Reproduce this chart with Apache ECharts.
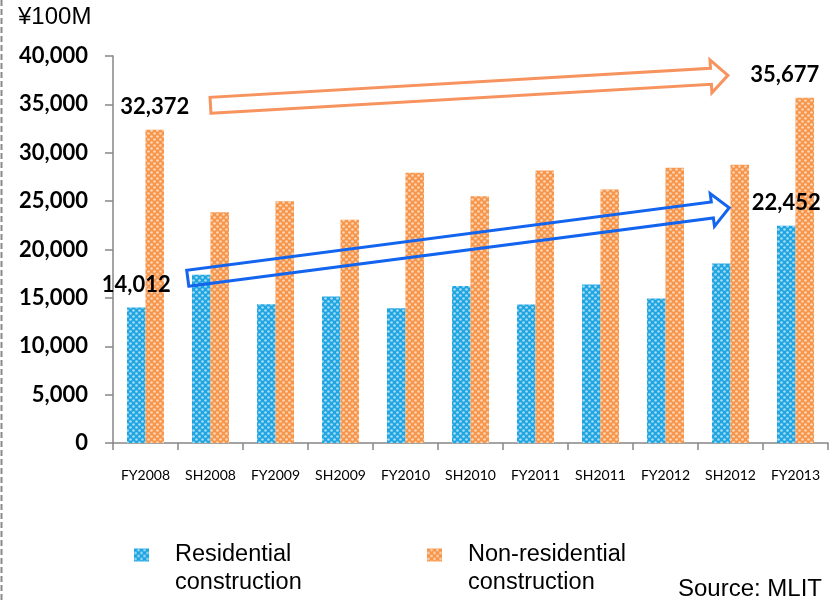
<!DOCTYPE html>
<html>
<head>
<meta charset="utf-8">
<script src="https://cdn.jsdelivr.net/npm/echarts@6/dist/echarts.min.js"></script>
<style>
  html, body { margin: 0; padding: 0; background: #fff; }
  #chart { width: 832px; height: 603px; }
</style>
</head>
<body>
<div id="chart"></div>
<script>
// Construction investment by fiscal year (FY) and second half (SH), ¥100M
const categories = ['FY2008', 'SH2008', 'FY2009', 'SH2009', 'FY2010', 'SH2010',
                    'FY2011', 'SH2011', 'FY2012', 'SH2012', 'FY2013'];
const residential = [14012, 17400, 14340, 15140, 13930, 16240, 14310, 16380, 14930, 18550, 22452];
const nonResidential = [32372, 23860, 24990, 23070, 27940, 25510, 28170, 26200, 28450, 28760, 35677];

// Value axis ticks
const yMin = 0;
const yMax = 40000;
const yStep = 5000;

// Trend arrows: [from category position, from value, to category position, to value]
const nonResTrend = [1, 34900, 8.96, 38000];
const resTrend = [0.65, 17030, 8.98, 24310];

// Bars whose values are written above them
const labelledIdx = [0, 10];

const BLUE = '#1FA6E2';
const ORANGE = '#F7964A';
const numFmt = v => v.toLocaleString('en-US');

function barData(values, extraOffsetLast) {
  return values.map((v, i) => {
    if (labelledIdx.indexOf(i) < 0) return v;
    return {
      value: v,
      label: {
        show: true,
        position: 'top',
        distance: 12,
        offset: [i === values.length - 1 ? extraOffsetLast : 0, 0],
        formatter: p => numFmt(p.value),
        fontFamily: 'Lato',
        fontWeight: 'bold',
        fontSize: 22,
        color: '#000'
      }
    };
  });
}

const decalFor = () => ({
  symbol: 'circle',
  symbolSize: 0.9,
  color: 'rgba(255,255,255,0.6)',
  dashArrayX: [[3, 3], [0, 3, 3, 0]],
  dashArrayY: [3, 0],
  rotation: 0
});

// Legend labels: the name sits on the icon's line, the second word below it
const legendText = {
  fontFamily: 'Liberation Sans',
  fontSize: 23.5,
  lineHeight: 28,
  color: '#000',
  padding: [0, 0, 0, 21]
};
const legendFormatter = name => '\n' + name;

const chart = echarts.init(document.getElementById('chart'), null, { renderer: 'canvas' });

chart.setOption({
  animation: false,
  backgroundColor: '#fff',
  title: {
    text: '¥100M',
    left: 18,
    top: 5,
    padding: 0,
    textStyle: { fontFamily: 'Liberation Sans', fontSize: 24, fontWeight: 'normal', color: '#000' }
  },
  legend: [
    {
      data: ['Residential\nconstruction'],
      left: 134, top: 513, padding: 0,
      itemWidth: 15, itemHeight: 13, icon: 'rect',
      selectedMode: false,
      formatter: legendFormatter,
      textStyle: legendText
    },
    {
      data: ['Non-residential\nconstruction'],
      left: 427, top: 513, padding: 0,
      itemWidth: 15, itemHeight: 13, icon: 'rect',
      selectedMode: false,
      formatter: legendFormatter,
      textStyle: legendText
    }
  ],
  grid: { left: 113, right: 4, top: 56, bottom: 160, containLabel: false },
  xAxis: {
    type: 'category',
    data: categories,
    axisLine: { lineStyle: { color: '#868686', width: 1.5 } },
    axisTick: { show: true, length: 7, lineStyle: { color: '#868686', width: 1.5 } },
    axisLabel: { margin: 25, fontFamily: 'Lato', fontSize: 14, color: '#000', interval: 0 }
  },
  yAxis: {
    type: 'value',
    min: yMin,
    max: yMax,
    interval: yStep,
    splitLine: { show: false },
    axisLine: { show: true, lineStyle: { color: '#868686', width: 1.5 } },
    axisTick: { show: true, length: 8, lineStyle: { color: '#868686', width: 1.5 } },
    axisLabel: {
      margin: 25,
      fontFamily: 'Lato',
      fontWeight: 'bold',
      fontSize: 22,
      color: '#000',
      formatter: v => numFmt(v)
    }
  },
  graphic: [
    {
      type: 'line',
      shape: { x1: 1.5, y1: 0, x2: 1.5, y2: 603 },
      style: { stroke: '#8a8a8a', lineWidth: 2, lineDash: [6, 3] }
    },
    {
      type: 'text',
      right: 10,
      top: 577,
      style: { text: 'Source: MLIT', fontFamily: 'Liberation Sans', fontSize: 24, fill: '#000' }
    }
  ],
  series: [
    {
      name: 'Residential\nconstruction',
      type: 'bar',
      barWidth: 18.5,
      barGap: '0%',
      itemStyle: { color: BLUE, decal: decalFor() },
      data: barData(residential, 0)
    },
    {
      name: 'Non-residential\nconstruction',
      type: 'bar',
      barWidth: 18.5,
      barGap: '0%',
      itemStyle: { color: ORANGE, decal: decalFor() },
      data: barData(nonResidential, -20)
    },
    {
      name: 'trend',
      type: 'custom',
      z: 5,
      silent: true,
      clip: false,
      dimensions: ['k', 'fx', 'fy', 'tx', 'ty'],
      encode: { x: 0, y: 2 },
      data: [
        { value: [0].concat(nonResTrend), itemStyle: { color: '#F7935E' } },
        { value: [0].concat(resTrend), itemStyle: { color: '#1364EE' } }
      ],
      renderItem: function (params, api) {
        const origin = api.coord([0, 0]);
        const band = api.size([1, 0])[0];
        const px = (ci, v) => [origin[0] + ci * band, api.coord([0, v])[1]];
        const s = px(api.value(1), api.value(2));
        const t = px(api.value(3), api.value(4));
        const dx = t[0] - s[0], dy = t[1] - s[1];
        const len = Math.sqrt(dx * dx + dy * dy);
        const ux = dx / len, uy = dy / len;
        const nx = -uy, ny = ux;
        const w = 8, h = 16.5, L = 17;
        const b = [t[0] - ux * L, t[1] - uy * L];
        const pts = [
          [s[0] + nx * w, s[1] + ny * w],
          [b[0] + nx * w, b[1] + ny * w],
          [b[0] + nx * h, b[1] + ny * h],
          [t[0], t[1]],
          [b[0] - nx * h, b[1] - ny * h],
          [b[0] - nx * w, b[1] - ny * w],
          [s[0] - nx * w, s[1] - ny * w]
        ];
        return {
          type: 'polygon',
          shape: { points: pts },
          style: { fill: 'none', stroke: api.visual('color'), lineWidth: 3, lineJoin: 'miter' }
        };
      }
    }
  ]
});
</script>
</body>
</html>
